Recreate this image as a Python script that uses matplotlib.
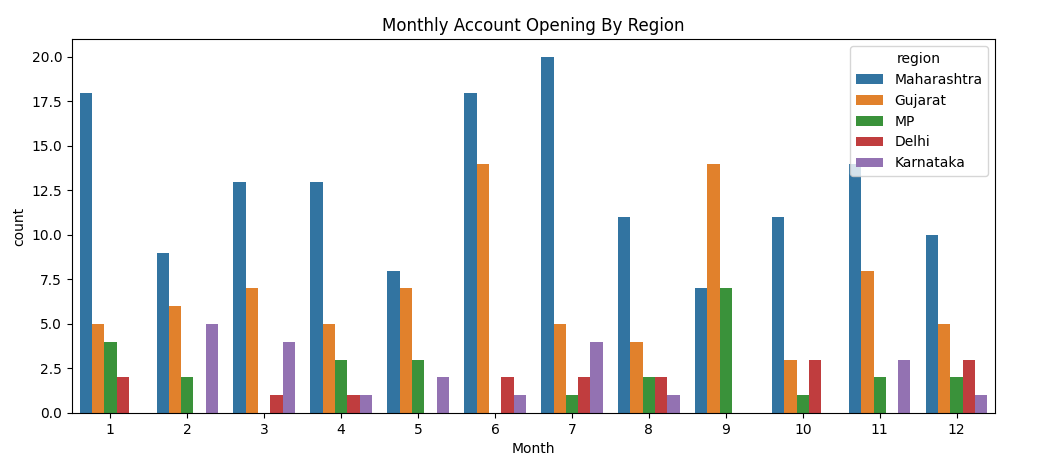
import numpy as np
import pandas as pd
import matplotlib
matplotlib.use('Agg')
import matplotlib.pyplot as plt
import seaborn as sns

months = list(range(1, 13))
regions = ['Maharashtra', 'Gujarat', 'MP', 'Delhi', 'Karnataka']
maharashtra = [18, 9, 13, 13, 8, 18, 20, 11, 7, 11, 14, 10]
gujarat = [5, 6, 7, 5, 7, 14, 5, 4, 14, 3, 8, 5]
mp = [4, 2, 0, 3, 3, 0, 1, 2, 7, 1, 2, 2]
delhi = [2, 0, 1, 1, 0, 2, 2, 2, 0, 3, 0, 3]
karnataka = [0, 5, 4, 1, 2, 1, 4, 1, 0, 0, 3, 1]

counts = dict(zip(regions, [maharashtra, gujarat, mp, delhi, karnataka]))
rows = []
for reg in regions:
    for m, c in zip(months, counts[reg]):
        rows.append(dict(Month=m, region=reg, count=c))
df = pd.DataFrame(rows)

fig = plt.figure(figsize=(10.42, 4.72), dpi=100)
ax = fig.add_axes([0.069, 0.125, 0.886, 0.792])
sns.barplot(data=df, x='Month', y='count', hue='region', hue_order=regions,
            palette=sns.color_palette()[:5], saturation=0.75, ax=ax,
            errorbar=None)
ax.set_ylim(0, 21)
ax.set_yticks(np.arange(0, 21, 2.5))
ax.set_title('Monthly Account Opening By Region')
ax.set_xlabel('Month')
ax.set_ylabel('count')
ax.legend(title='region', loc='upper right')

fig.savefig('out.png', dpi=100)
